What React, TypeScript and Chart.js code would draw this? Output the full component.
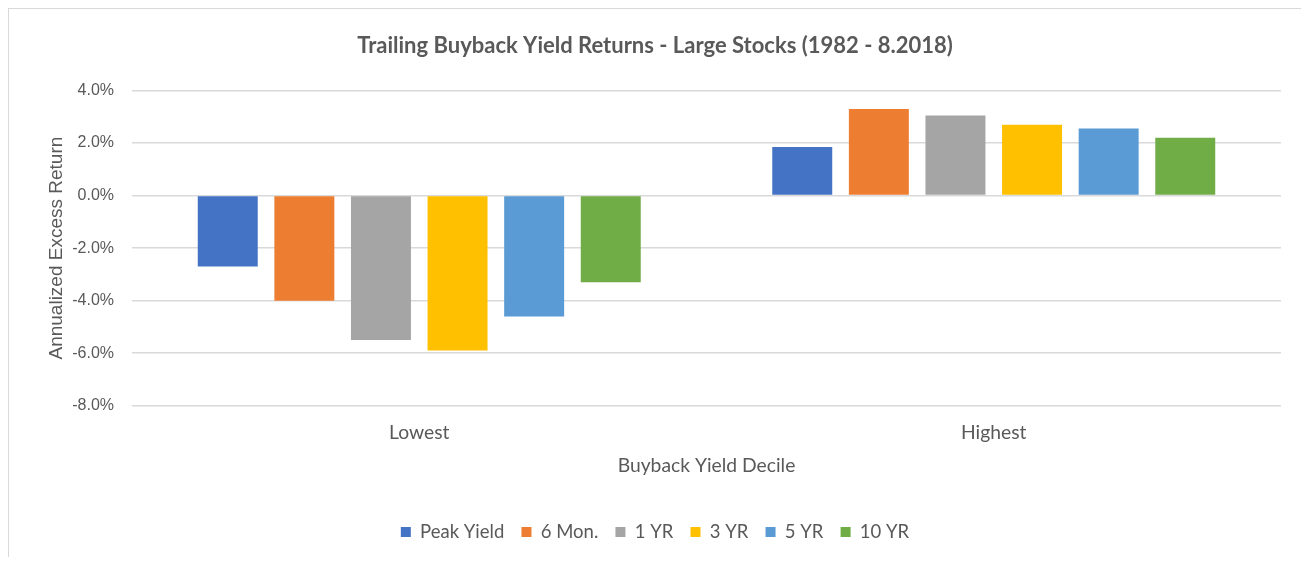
import React, { useEffect, useRef } from "react";
import { Chart, registerables } from "chart.js";

Chart.register(...registerables);

const categories = ["Lowest", "Highest"];
const seriesNames = ["Peak Yield", "6 Mon.", "1 YR", "3 YR", "5 YR", "10 YR"];
const peakYield = [-2.7, 1.85];
const sixMon = [-4.0, 3.3];
const oneYr = [-5.5, 3.05];
const threeYr = [-5.9, 2.7];
const fiveYr = [-4.6, 2.55];
const tenYr = [-3.3, 2.2];
const seriesColors = ["#4472C4", "#ED7D31", "#A5A5A5", "#FFC000", "#5B9BD5", "#70AD47"];
const yTicks = [-8, -6, -4, -2, 0, 2, 4];

const TEXT = "#595959";
const GRID = "#D9D9D9";

export default function App() {
  const ref = useRef<HTMLCanvasElement | null>(null);

  useEffect(() => {
    if (!ref.current) return;
    const values = [peakYield, sixMon, oneYr, threeYr, fiveYr, tenYr];
    const chart = new Chart(ref.current, {
      type: "bar",
      data: {
        labels: categories,
        datasets: seriesNames.map((name, i) => ({
          label: name,
          data: values[i],
          backgroundColor: seriesColors[i],
          borderWidth: 0,
          categoryPercentage: 0.8,
          barPercentage: 0.783,
          yAxisID: "y",
        })),
      },
      options: {
        animation: false,
        responsive: false,
        devicePixelRatio: 1,
        layout: { padding: { top: 0, left: 0, right: 16, bottom: 15.75 } },
        plugins: {
          tooltip: { enabled: false },
          title: {
            display: true,
            text: "Trailing Buyback Yield Returns - Large Stocks (1982 - 8.2018)",
            color: TEXT,
            font: { family: "Lato", size: 22, weight: "bold" },
            padding: { top: 23.8, bottom: 31.3 },
          },
          legend: {
            position: "bottom",
            labels: {
              color: TEXT,
              font: { family: "Lato", size: 18.5 },
              boxWidth: 10,
              boxHeight: 10,
              padding: 17.2,
            },
          },
        },
        scales: {
          x: {
            grid: { display: false, drawTicks: false },
            border: { display: false },
            ticks: {
              color: TEXT,
              font: { family: "Lato", size: 19.3 },
              padding: 15.7,
            },
            title: {
              display: true,
              text: "Buyback Yield Decile",
              color: TEXT,
              font: { family: "Lato", size: 19.3 },
              padding: { top: 0, bottom: 27.97 },
            },
            afterFit: (s: any) => {
              s.height = 99.85;
            },
          },
          y: {
            min: -8,
            max: 4,
            afterBuildTicks: (s: any) => {
              s.ticks = yTicks.map((v) => ({ value: v }));
            },
            grid: { color: GRID, lineWidth: 1.5, drawTicks: false },
            border: { display: false },
            ticks: {
              color: TEXT,
              font: { family: "'Liberation Sans', Arial, sans-serif", size: 16 },
              padding: 18,
              callback: (v: any) => `${Number(v).toFixed(1)}%`,
            },
            title: {
              display: true,
              text: "Annualized Excess Return",
              color: TEXT,
              font: { family: "'Liberation Sans', Arial, sans-serif", size: 19 },
              padding: { top: 36.6, bottom: 0 },
            },
            afterFit: (s: any) => {
              s.width = 123;
            },
          },
          y2: {
            position: "right",
            display: true,
            grid: { display: false, drawTicks: false },
            border: { display: false },
            ticks: { display: false },
            afterFit: (s: any) => {
              s.width = 20;
            },
          },
        },
      },
    });
    return () => chart.destroy();
  }, []);

  return (
    <div
      style={{
        width: 1301,
        height: 557,
        marginBottom: -8,
        overflow: "hidden",
      }}
    >
      <div
        style={{
          width: 1310,
          height: 560,
          boxSizing: "border-box",
          border: "1px solid #D9D9D9",
          background: "#FFFFFF",
        }}
      >
        <canvas ref={ref} width={1308} height={558} style={{ display: "block" }} />
      </div>
    </div>
  );
}
